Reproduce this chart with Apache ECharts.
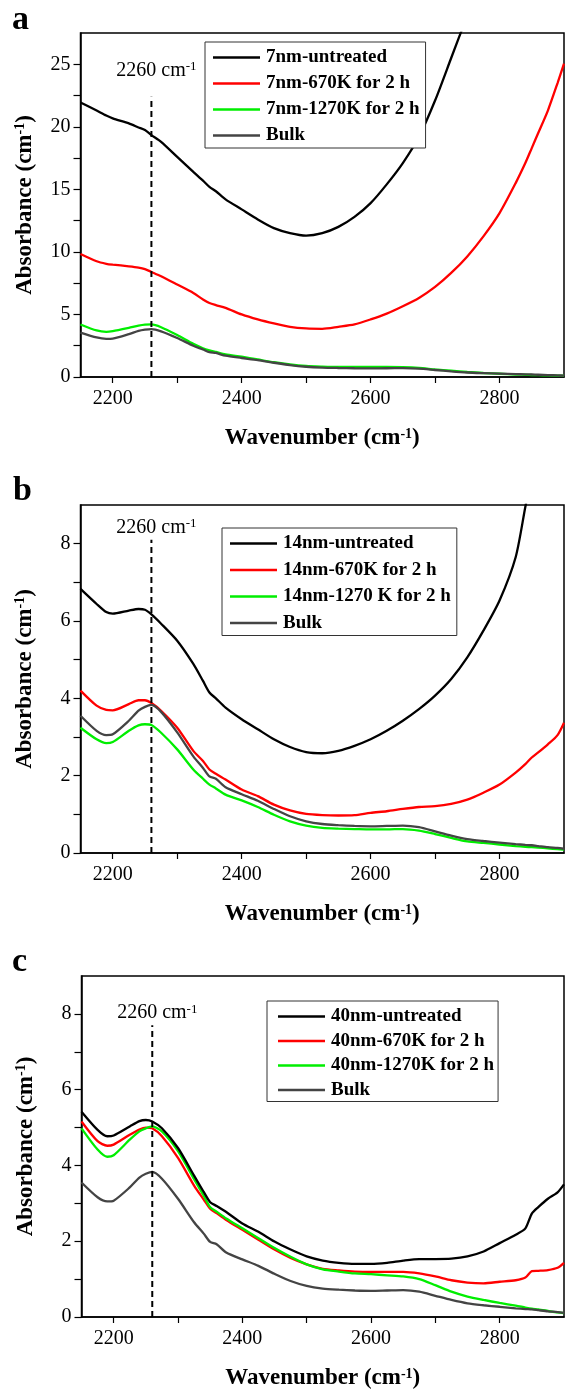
<!DOCTYPE html>
<html><head><meta charset="utf-8">
<script src="https://cdn.jsdelivr.net/npm/echarts@6/dist/echarts.min.js"></script>
<style>html,body{margin:0;padding:0;background:#fff}#c{width:566px;height:1391px}</style>
</head><body><div id="c"></div>
<script>
// ---------- data ----------
const wavenumber = [2150,2175,2190,2200,2225,2240,2250,2260,2275,2300,2325,2340,2350,2360,2375,2400,2425,2450,2475,2500,2525,2550,2575,2600,2625,2650,2675,2700,2725,2750,2775,2800,2825,2840,2850,2860,2875,2890,2900];

const bulk = [3.55,3.16,3.05,3.07,3.42,3.68,3.78,3.83,3.65,3.12,2.5,2.2,1.98,1.92,1.7,1.52,1.35,1.14,0.95,0.82,0.75,0.72,0.7,0.69,0.7,0.71,0.67,0.56,0.45,0.36,0.31,0.27,0.23,0.21,0.2,0.18,0.15,0.13,0.11];

const a_untreated = [21.95,21.3,20.9,20.67,20.27,19.95,19.74,19.34,18.8,17.6,16.4,15.7,15.2,14.85,14.2,13.4,12.6,11.9,11.5,11.3,11.5,12.0,12.8,13.9,15.4,17.1,19.2,22.1,25.5,28.9,null,null,null,null,null,null,null,null,null];
const a_670K = [9.83,9.25,9.05,8.98,8.85,8.75,8.63,8.4,8.05,7.39,6.72,6.2,5.92,5.75,5.53,5.0,4.6,4.28,4.01,3.88,3.85,4.01,4.2,4.6,5.07,5.66,6.32,7.2,8.32,9.64,11.24,13.1,15.5,17.1,18.3,19.5,21.3,23.5,25.05];
const a_1270K = [4.2,3.72,3.61,3.67,3.93,4.1,4.18,4.2,3.98,3.35,2.65,2.3,2.13,2.0,1.81,1.62,1.4,1.18,1.0,0.88,0.83,0.8,0.8,0.8,0.8,0.78,0.72,0.6,0.5,0.4,0.32,0.26,0.2,0.18,0.16,0.15,0.13,0.11,0.1];

const b_untreated = [6.83,6.44,6.23,6.19,6.27,6.31,6.29,6.17,5.93,5.49,4.89,4.45,4.15,4.0,3.76,3.46,3.2,2.94,2.74,2.61,2.58,2.64,2.77,2.94,3.16,3.42,3.72,4.07,4.5,5.06,5.75,6.53,7.65,8.95,9.8,null,null,null,null];
const b_670K = [4.2,3.81,3.7,3.69,3.85,3.95,3.95,3.88,3.68,3.24,2.64,2.38,2.16,2.05,1.9,1.64,1.47,1.25,1.1,1.01,0.98,0.97,0.98,1.04,1.08,1.14,1.19,1.21,1.27,1.38,1.56,1.77,2.08,2.3,2.47,2.6,2.81,3.05,3.37];
const b_1270K = [3.24,2.94,2.84,2.87,3.16,3.3,3.33,3.31,3.11,2.68,2.16,1.92,1.77,1.67,1.51,1.36,1.19,0.99,0.82,0.71,0.65,0.63,0.62,0.61,0.61,0.62,0.58,0.49,0.39,0.3,0.26,0.22,0.18,0.16,0.15,0.14,0.12,0.1,0.09];

const c_untreated = [5.42,4.94,4.77,4.79,5.03,5.17,5.2,5.16,4.98,4.46,3.73,3.3,3.03,2.93,2.77,2.47,2.25,1.99,1.78,1.6,1.49,1.43,1.4,1.4,1.43,1.49,1.53,1.53,1.54,1.6,1.73,1.95,2.17,2.34,2.73,2.9,3.12,3.29,3.5];
const c_670K = [5.16,4.64,4.52,4.55,4.81,4.95,5.0,4.98,4.77,4.2,3.47,3.1,2.86,2.74,2.56,2.3,2.04,1.78,1.56,1.39,1.27,1.23,1.2,1.19,1.19,1.19,1.15,1.07,0.97,0.91,0.89,0.93,0.97,1.04,1.21,1.22,1.24,1.3,1.43];
const c_1270K = [4.98,4.42,4.23,4.27,4.68,4.9,4.98,5.03,4.9,4.38,3.64,3.2,2.9,2.78,2.6,2.34,2.08,1.82,1.59,1.39,1.26,1.2,1.15,1.13,1.1,1.07,1.0,0.84,0.67,0.54,0.45,0.37,0.3,0.25,0.22,0.2,0.16,0.12,0.1];

const seriesNames = [
  ['7nm-untreated','7nm-670K for 2 h','7nm-1270K for 2 h','Bulk'],
  ['14nm-untreated','14nm-670K for 2 h','14nm-1270 K for 2 h','Bulk'],
  ['40nm-untreated','40nm-670K for 2 h','40nm-1270K for 2 h','Bulk']
];
const panelSeries = [
  [a_untreated, a_670K, a_1270K, bulk],
  [b_untreated, b_670K, b_1270K, bulk],
  [c_untreated, c_670K, c_1270K, bulk]
];
const panelLetters = ['a','b','c'];
const markerWavenumber = 2260;
const markerTop = [22.4, 8.1, 7.7];
const xLabelValues = [2200,2400,2600,2800];
const xTickValues = [2200,2300,2400,2500,2600,2700,2800];
const yMax = [27.5, 9, 9];
const yLabelValues = [[0,5,10,15,20,25],[0,2,4,6,8],[0,2,4,6,8]];
const yTickValues = [[0,2.5,5,7.5,10,12.5,15,17.5,20,22.5,25],[0,1,2,3,4,5,6,7,8],[0,1,2,3,4,5,6,7,8]];

// ---------- layout / style ----------
const F = "'Liberation Serif','Times New Roman',serif";
const colors = ['#000000','#ff0000','#00ee00','#444444'];
const grids = [
  {left:80.5, right:2, top:33, height:344},
  {left:80.5, right:2, top:505, height:348},
  {left:81.5, right:2, top:976, height:347}
];
const legendPos = [
  {left:205, top:42, itemGap:7, padding:[6,6,3,8]},
  {left:222, top:528, itemGap:7.5, padding:[6,6,3,8]},
  {left:267, top:1001, itemGap:5.5, padding:[6,4,2,11]}
];
const letterPos = [{left:12, top:3},{left:13, top:474},{left:12, top:945}];
const annotOffset = [-16, -2, -2];

const nameRich = {
  t:{fontSize:23, fontWeight:'bold', fontFamily:F, color:'#000'},
  s:{fontSize:14, fontWeight:'bold', fontFamily:F, color:'#000', verticalAlign:'top'}
};

const option = {
  backgroundColor:'#fff',
  animation:false,
  title: panelLetters.map((l,i)=>({text:l, left:letterPos[i].left, top:letterPos[i].top, padding:0,
    textStyle:{fontFamily:F, fontWeight:'bold', fontSize:34, color:'#000'}})),
  grid: grids.map(g=>Object.assign({show:true, borderColor:'#000', borderWidth:1.5, backgroundColor:'transparent'}, g)),
  legend: seriesNames.map((names,i)=>({
    orient:'vertical', left:legendPos[i].left, top:legendPos[i].top, padding:legendPos[i].padding,
    itemGap:legendPos[i].itemGap, data:names.map(n=>({name:n, icon:'rect'})), itemWidth:47, itemHeight:2.5,
    backgroundColor:'#fff', borderColor:'#333', borderWidth:1, selectedMode:false,
    textStyle:{fontFamily:F, fontWeight:'bold', fontSize:19, color:'#000', padding:[0,0,0,1]}
  })),
  xAxis: grids.map((g,i)=>({
    gridIndex:i, type:'value', min:2150, max:2900,
    axisLine:{show:true, onZero:false, lineStyle:{color:'#000', width:1.5}},
    axisTick:{show:true, inside:false, length:6, customValues:xTickValues, lineStyle:{color:'#000', width:1.2}},
    axisLabel:{customValues:xLabelValues, margin:12, fontFamily:F, fontSize:20, color:'#000', formatter:v=>String(v)},
    splitLine:{show:false},
    name:'{t|Wavenumber (cm}{s|-1}{t|)}', nameLocation:'middle', nameGap:50,
    nameTextStyle:{rich:nameRich}
  })),
  yAxis: grids.map((g,i)=>({
    gridIndex:i, type:'value', min:0, max:yMax[i],
    axisLine:{show:true, onZero:false, lineStyle:{color:'#000', width:1.5}},
    axisTick:{show:true, inside:false, length:7, customValues:yTickValues[i], lineStyle:{color:'#000', width:1.2}},
    axisLabel:{customValues:yLabelValues[i], margin:10, fontFamily:F, fontSize:20, color:'#000', formatter:v=>String(v)},
    splitLine:{show:false},
    name:'{t|Absorbance (cm}{s|-1}{t|)}', nameLocation:'middle', nameRotate:90, nameGap:44,
    nameTextStyle:{rich:nameRich}
  })),
  series: []
};

panelSeries.forEach((arrs,i)=>{
  arrs.forEach((ys,k)=>{
    option.series.push({
      type:'line', name:seriesNames[i][k], xAxisIndex:i, yAxisIndex:i,
      data: wavenumber.map((x,j)=>[x, ys[j]]),
      showSymbol:false, symbol:'none', smooth:0.25, connectNulls:false, clip:true,
      lineStyle:{color:colors[k], width:2.3}, itemStyle:{color:colors[k]}, z: k===0?3:2
    });
  });
  option.series.push({
    type:'line', name:'marker'+i, xAxisIndex:i, yAxisIndex:i, silent:true,
    data:[[markerWavenumber,0],[markerWavenumber,markerTop[i]]],
    symbol:'none', lineStyle:{color:'#000', width:2, type:[6,4]}, z:4
  });
  option.series.push({
    type:'scatter', name:'annot'+i, xAxisIndex:i, yAxisIndex:i, silent:true,
    data:[[markerWavenumber, markerTop[i]]], symbolSize:1, itemStyle:{color:'#fff', opacity:1},
    label:{show:true, position:'top', distance:0, offset:[5, annotOffset[i]], color:'#000', opacity:1,
      formatter:'{n|2260 cm}{s|-1}',
      rich:{n:{fontFamily:F, fontSize:20, color:'#000'}, s:{fontFamily:F, fontSize:13, color:'#000', verticalAlign:'top'}}}
  });
});

const chart = echarts.init(document.getElementById('c'), null, {renderer:'canvas'});
chart.setOption(option);
</script>
</body></html>
